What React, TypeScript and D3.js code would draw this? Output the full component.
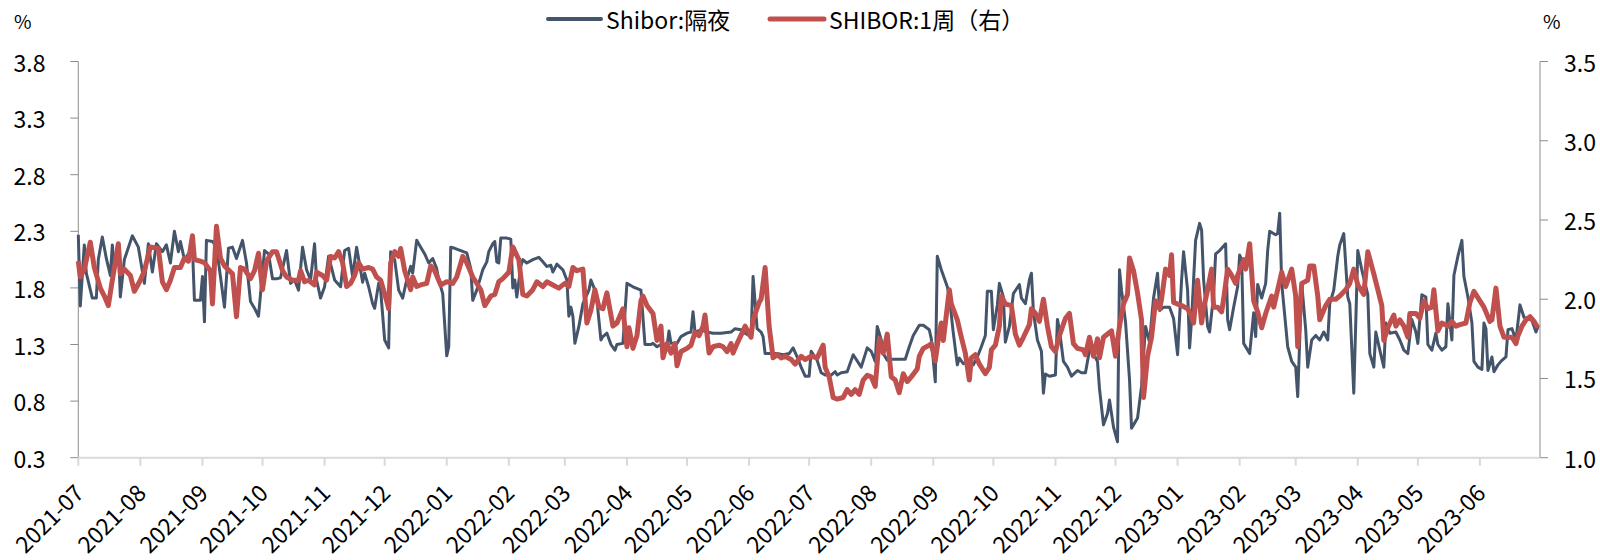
import React, { useEffect } from "react";
import * as d3 from "d3";

// Shibor overnight (left axis)
const overnight: [string, number][] = [
  ["2021-07-01", 2.27], ["2021-07-02", 1.64], ["2021-07-04", 2.18], ["2021-07-05", 1.93], ["2021-07-08", 1.71],
  ["2021-07-10", 1.71], ["2021-07-11", 2.05], ["2021-07-13", 2.25], ["2021-07-15", 2.06], ["2021-07-17", 1.91],
  ["2021-07-18", 2.18], ["2021-07-19", 1.96], ["2021-07-21", 2.18], ["2021-07-22", 1.72], ["2021-07-24", 2.05],
  ["2021-07-28", 2.26], ["2021-07-31", 2.16], ["2021-08-03", 1.84], ["2021-08-05", 2.19], ["2021-08-07", 1.94],
  ["2021-08-09", 2.19], ["2021-08-12", 2.12], ["2021-08-14", 2.18], ["2021-08-16", 2.02], ["2021-08-18", 2.3],
  ["2021-08-20", 2.12], ["2021-08-21", 2.21], ["2021-08-23", 2.05], ["2021-08-25", 2.1], ["2021-08-27", 2.16],
  ["2021-08-28", 1.69], ["2021-08-31", 1.69], ["2021-09-01", 1.9], ["2021-09-02", 1.5], ["2021-09-03", 2.22],
  ["2021-09-06", 2.21], ["2021-09-08", 2.16], ["2021-09-10", 1.9], ["2021-09-12", 1.63], ["2021-09-14", 2.15],
  ["2021-09-16", 2.16], ["2021-09-18", 2.06], ["2021-09-21", 2.22], ["2021-09-23", 2.02], ["2021-09-25", 1.68],
  ["2021-09-27", 1.62], ["2021-09-29", 1.55], ["2021-10-02", 2.13], ["2021-10-04", 2.1], ["2021-10-06", 1.88],
  ["2021-10-08", 1.88], ["2021-10-10", 1.89], ["2021-10-13", 2.13], ["2021-10-15", 1.84], ["2021-10-17", 1.87],
  ["2021-10-19", 1.78], ["2021-10-21", 2.16], ["2021-10-23", 1.96], ["2021-10-25", 1.87], ["2021-10-27", 2.19],
  ["2021-10-28", 1.87], ["2021-10-30", 1.71], ["2021-11-01", 1.81], ["2021-11-03", 2.08], ["2021-11-06", 1.87],
  ["2021-11-09", 1.81], ["2021-11-11", 2.13], ["2021-11-13", 2.15], ["2021-11-15", 1.9], ["2021-11-17", 2.16],
  ["2021-11-20", 1.85], ["2021-11-21", 1.93], ["2021-11-23", 1.81], ["2021-11-25", 1.66], ["2021-11-26", 1.62],
  ["2021-11-28", 1.84], ["2021-11-29", 1.78], ["2021-12-01", 1.34], ["2021-12-03", 1.27], ["2021-12-04", 2.12],
  ["2021-12-06", 2.05], ["2021-12-08", 1.78], ["2021-12-10", 1.71], ["2021-12-12", 1.87], ["2021-12-14", 1.99],
  ["2021-12-15", 1.93], ["2021-12-17", 2.22], ["2021-12-19", 2.16], ["2021-12-21", 2.1], ["2021-12-23", 2.02],
  ["2021-12-25", 2.06], ["2021-12-27", 1.97], ["2021-12-28", 1.87], ["2021-12-30", 1.75], ["2022-01-01", 1.2],
  ["2022-01-02", 1.28], ["2022-01-03", 2.16], ["2022-01-05", 2.15], ["2022-01-08", 2.13], ["2022-01-11", 2.11],
  ["2022-01-13", 1.97], ["2022-01-14", 1.69], ["2022-01-16", 1.78], ["2022-01-18", 1.9], ["2022-01-19", 1.96],
  ["2022-01-21", 2.03], ["2022-01-22", 2.12], ["2022-01-24", 2.19], ["2022-01-25", 2.21], ["2022-01-26", 2.03],
  ["2022-01-27", 2.02], ["2022-01-28", 2.24], ["2022-01-31", 2.24], ["2022-02-02", 2.23], ["2022-02-03", 1.8],
  ["2022-02-04", 1.87], ["2022-02-05", 1.72], ["2022-02-07", 1.99], ["2022-02-08", 2.05], ["2022-02-10", 2.02],
  ["2022-02-13", 2.05], ["2022-02-16", 2.07], ["2022-02-18", 2.03], ["2022-02-20", 1.99], ["2022-02-22", 2.0],
  ["2022-02-23", 1.94], ["2022-02-25", 2.01], ["2022-02-28", 1.96], ["2022-03-02", 1.87], ["2022-03-03", 1.55],
  ["2022-03-04", 1.63], ["2022-03-05", 1.55], ["2022-03-06", 1.31], ["2022-03-08", 1.46], ["2022-03-10", 1.66],
  ["2022-03-13", 1.78], ["2022-03-14", 1.87], ["2022-03-16", 1.78], ["2022-03-17", 1.69], ["2022-03-19", 1.34],
  ["2022-03-20", 1.37], ["2022-03-22", 1.4], ["2022-03-24", 1.3], ["2022-03-26", 1.25], ["2022-03-27", 1.3],
  ["2022-03-30", 1.31], ["2022-04-01", 1.84], ["2022-04-04", 1.81], ["2022-04-08", 1.78], ["2022-04-10", 1.3],
  ["2022-04-13", 1.3], ["2022-04-14", 1.31], ["2022-04-16", 1.28], ["2022-04-18", 1.3], ["2022-04-21", 1.28],
  ["2022-04-22", 1.42], ["2022-04-23", 1.31], ["2022-04-26", 1.31], ["2022-04-28", 1.37], ["2022-05-01", 1.4],
  ["2022-05-03", 1.41], ["2022-05-04", 1.59], ["2022-05-05", 1.41], ["2022-05-08", 1.43], ["2022-05-11", 1.41],
  ["2022-05-14", 1.4], ["2022-05-18", 1.4], ["2022-05-23", 1.41], ["2022-05-25", 1.44], ["2022-05-28", 1.43],
  ["2022-05-30", 1.4], ["2022-06-02", 1.37], ["2022-06-03", 1.9], ["2022-06-05", 1.44], ["2022-06-07", 1.41],
  ["2022-06-08", 1.37], ["2022-06-09", 1.22], ["2022-06-12", 1.22], ["2022-06-15", 1.22], ["2022-06-18", 1.21],
  ["2022-06-21", 1.22], ["2022-06-23", 1.27], ["2022-06-25", 1.19], ["2022-06-27", 1.1], ["2022-06-29", 1.02],
  ["2022-07-01", 1.02], ["2022-07-02", 1.24], ["2022-07-05", 1.16], ["2022-07-07", 1.05], ["2022-07-09", 1.03],
  ["2022-07-12", 1.03], ["2022-07-14", 1.06], ["2022-07-15", 1.03], ["2022-07-17", 1.05], ["2022-07-20", 1.06],
  ["2022-07-23", 1.21], ["2022-07-27", 1.1], ["2022-07-30", 1.27], ["2022-08-01", 1.24], ["2022-08-03", 1.15],
  ["2022-08-04", 1.46], ["2022-08-06", 1.34], ["2022-08-07", 1.22], ["2022-08-09", 1.16], ["2022-08-11", 1.17],
  ["2022-08-15", 1.17], ["2022-08-18", 1.17], ["2022-08-20", 1.28], ["2022-08-22", 1.38], ["2022-08-25", 1.47],
  ["2022-08-27", 1.47], ["2022-08-30", 1.43], ["2022-08-31", 1.35], ["2022-09-02", 0.97], ["2022-09-03", 2.08],
  ["2022-09-05", 1.96], ["2022-09-08", 1.81], ["2022-09-09", 1.72], ["2022-09-11", 1.4], ["2022-09-13", 1.12],
  ["2022-09-14", 1.18], ["2022-09-16", 1.13], ["2022-09-19", 1.16], ["2022-09-21", 1.12], ["2022-09-23", 1.19],
  ["2022-09-25", 1.28], ["2022-09-27", 1.38], ["2022-09-28", 1.77], ["2022-09-30", 1.77], ["2022-10-01", 1.43],
  ["2022-10-03", 1.65], ["2022-10-04", 1.84], ["2022-10-06", 1.72], ["2022-10-07", 1.32], ["2022-10-09", 1.46],
  ["2022-10-11", 1.75], ["2022-10-14", 1.83], ["2022-10-15", 1.71], ["2022-10-17", 1.66], ["2022-10-19", 1.87],
  ["2022-10-20", 1.93], ["2022-10-21", 1.59], ["2022-10-23", 1.34], ["2022-10-25", 1.24], ["2022-10-26", 0.87],
  ["2022-10-27", 1.04], ["2022-10-29", 1.02], ["2022-11-01", 1.03], ["2022-11-02", 1.52], ["2022-11-03", 1.43],
  ["2022-11-05", 1.15], ["2022-11-07", 1.1], ["2022-11-09", 1.02], ["2022-11-12", 1.07], ["2022-11-14", 1.05],
  ["2022-11-16", 1.05], ["2022-11-18", 1.25], ["2022-11-20", 1.22], ["2022-11-22", 1.15], ["2022-11-23", 0.91],
  ["2022-11-25", 0.59], ["2022-11-27", 0.69], ["2022-11-28", 0.81], ["2022-11-30", 0.57], ["2022-12-02", 0.44],
  ["2022-12-03", 1.96], ["2022-12-04", 1.78], ["2022-12-06", 1.5], ["2022-12-08", 0.99], ["2022-12-09", 0.56],
  ["2022-12-10", 0.59], ["2022-12-12", 0.65], ["2022-12-14", 0.93], ["2022-12-16", 1.46], ["2022-12-18", 1.32],
  ["2022-12-19", 1.52], ["2022-12-20", 1.71], ["2022-12-22", 1.93], ["2022-12-23", 1.6], ["2022-12-25", 1.63],
  ["2022-12-28", 1.63], ["2022-12-30", 1.53], ["2023-01-01", 1.21], ["2023-01-03", 1.87], ["2023-01-04", 2.12],
  ["2023-01-06", 1.78], ["2023-01-07", 1.27], ["2023-01-08", 1.52], ["2023-01-10", 2.22], ["2023-01-12", 2.37],
  ["2023-01-13", 2.31], ["2023-01-14", 1.87], ["2023-01-16", 1.46], ["2023-01-17", 1.41], ["2023-01-19", 1.74],
  ["2023-01-20", 2.1], ["2023-01-22", 2.13], ["2023-01-25", 2.19], ["2023-01-26", 1.52], ["2023-01-27", 1.43],
  ["2023-01-29", 1.63], ["2023-01-31", 1.81], ["2023-02-01", 2.09], ["2023-02-02", 2.05], ["2023-02-03", 1.31],
  ["2023-02-06", 1.22], ["2023-02-08", 1.58], ["2023-02-09", 1.37], ["2023-02-10", 1.83], ["2023-02-12", 1.71],
  ["2023-02-14", 1.84], ["2023-02-15", 2.13], ["2023-02-16", 2.3], ["2023-02-19", 2.27], ["2023-02-20", 2.28],
  ["2023-02-21", 2.46], ["2023-02-22", 1.84], ["2023-02-25", 1.28], ["2023-02-27", 1.15], ["2023-03-01", 1.1],
  ["2023-03-02", 0.84], ["2023-03-04", 1.84], ["2023-03-06", 1.43], ["2023-03-07", 1.1], ["2023-03-09", 1.34],
  ["2023-03-11", 1.38], ["2023-03-13", 1.34], ["2023-03-15", 1.41], ["2023-03-17", 1.34], ["2023-03-18", 1.66],
  ["2023-03-20", 1.78], ["2023-03-22", 2.08], ["2023-03-23", 2.18], ["2023-03-25", 2.28], ["2023-03-27", 1.72],
  ["2023-03-28", 1.66], ["2023-03-30", 0.87], ["2023-04-01", 2.13], ["2023-04-03", 1.96], ["2023-04-06", 1.74],
  ["2023-04-07", 1.22], ["2023-04-09", 1.1], ["2023-04-10", 1.41], ["2023-04-12", 1.25], ["2023-04-14", 1.1],
  ["2023-04-15", 1.49], ["2023-04-17", 1.4], ["2023-04-20", 1.41], ["2023-04-22", 1.34], ["2023-04-24", 1.25],
  ["2023-04-26", 1.22], ["2023-04-28", 1.52], ["2023-04-30", 1.41], ["2023-05-01", 1.31], ["2023-05-03", 1.74],
  ["2023-05-05", 1.72], ["2023-05-06", 1.3], ["2023-05-08", 1.25], ["2023-05-10", 1.4], ["2023-05-11", 1.3],
  ["2023-05-13", 1.25], ["2023-05-15", 1.28], ["2023-05-16", 1.66], ["2023-05-18", 1.34], ["2023-05-19", 1.91],
  ["2023-05-21", 2.08], ["2023-05-23", 2.22], ["2023-05-24", 1.9], ["2023-05-26", 1.72], ["2023-05-28", 1.49],
  ["2023-05-29", 1.15], ["2023-05-31", 1.1], ["2023-06-02", 1.08], ["2023-06-03", 1.49], ["2023-06-04", 1.44],
  ["2023-06-05", 1.07], ["2023-06-07", 1.19], ["2023-06-08", 1.06], ["2023-06-10", 1.12], ["2023-06-12", 1.16],
  ["2023-06-14", 1.19], ["2023-06-15", 1.43], ["2023-06-17", 1.44], ["2023-06-19", 1.34], ["2023-06-21", 1.65],
  ["2023-06-23", 1.54], ["2023-06-25", 1.53], ["2023-06-27", 1.51], ["2023-06-29", 1.41], ["2023-06-30", 1.46],
];

// SHIBOR 1 week (right axis)
const oneWeek: [string, number][] = [
  ["2021-07-01", 2.24], ["2021-07-02", 2.14], ["2021-07-04", 2.19], ["2021-07-07", 2.36], ["2021-07-09", 2.2],
  ["2021-07-12", 2.07], ["2021-07-14", 2.02], ["2021-07-16", 1.96], ["2021-07-18", 2.12], ["2021-07-21", 2.35],
  ["2021-07-22", 2.16], ["2021-07-24", 2.19], ["2021-07-27", 2.15], ["2021-07-29", 2.05], ["2021-08-01", 2.12],
  ["2021-08-03", 2.18], ["2021-08-06", 2.33], ["2021-08-10", 2.32], ["2021-08-12", 2.11], ["2021-08-14", 2.06],
  ["2021-08-16", 2.12], ["2021-08-18", 2.2], ["2021-08-21", 2.2], ["2021-08-23", 2.26], ["2021-08-25", 2.24],
  ["2021-08-27", 2.4], ["2021-08-28", 2.25], ["2021-08-31", 2.24], ["2021-09-02", 2.23], ["2021-09-05", 2.18],
  ["2021-09-06", 1.97], ["2021-09-08", 2.46], ["2021-09-10", 2.26], ["2021-09-12", 2.21], ["2021-09-16", 2.16],
  ["2021-09-18", 1.89], ["2021-09-20", 2.2], ["2021-09-22", 2.19], ["2021-09-25", 2.13], ["2021-09-27", 2.18],
  ["2021-09-29", 2.29], ["2021-10-01", 2.06], ["2021-10-03", 2.24], ["2021-10-06", 2.3], ["2021-10-08", 2.3],
  ["2021-10-11", 2.18], ["2021-10-13", 2.14], ["2021-10-16", 2.12], ["2021-10-19", 2.12], ["2021-10-20", 2.18],
  ["2021-10-22", 2.11], ["2021-10-24", 2.12], ["2021-10-27", 2.09], ["2021-10-28", 2.17], ["2021-10-31", 2.15],
  ["2021-11-02", 2.12], ["2021-11-04", 2.27], ["2021-11-06", 2.26], ["2021-11-08", 2.3], ["2021-11-10", 2.23],
  ["2021-11-12", 2.08], ["2021-11-14", 2.1], ["2021-11-16", 2.15], ["2021-11-18", 2.23], ["2021-11-20", 2.19],
  ["2021-11-23", 2.2], ["2021-11-25", 2.19], ["2021-11-27", 2.14], ["2021-11-29", 2.12], ["2021-12-02", 1.99],
  ["2021-12-03", 1.94], ["2021-12-04", 2.23], ["2021-12-06", 2.3], ["2021-12-08", 2.27], ["2021-12-09", 2.32],
  ["2021-12-11", 2.18], ["2021-12-14", 2.06], ["2021-12-15", 2.14], ["2021-12-17", 2.08], ["2021-12-19", 2.09],
  ["2021-12-22", 2.1], ["2021-12-24", 2.21], ["2021-12-26", 2.18], ["2021-12-29", 2.09], ["2022-01-01", 2.11],
  ["2022-01-04", 2.1], ["2022-01-06", 2.14], ["2022-01-09", 2.27], ["2022-01-11", 2.23], ["2022-01-14", 2.14],
  ["2022-01-18", 2.06], ["2022-01-20", 1.96], ["2022-01-23", 2.02], ["2022-01-25", 2.03], ["2022-01-27", 2.11],
  ["2022-01-29", 2.13], ["2022-02-01", 2.17], ["2022-02-03", 2.33], ["2022-02-06", 2.25], ["2022-02-08", 2.03],
  ["2022-02-10", 2.02], ["2022-02-13", 2.06], ["2022-02-15", 2.11], ["2022-02-18", 2.08], ["2022-02-20", 2.11],
  ["2022-02-23", 2.09], ["2022-02-26", 2.07], ["2022-03-01", 2.1], ["2022-03-03", 2.08], ["2022-03-05", 2.2],
  ["2022-03-07", 2.18], ["2022-03-10", 2.19], ["2022-03-12", 1.85], ["2022-03-14", 1.93], ["2022-03-16", 2.06],
  ["2022-03-18", 1.95], ["2022-03-20", 1.94], ["2022-03-22", 2.04], ["2022-03-25", 1.83], ["2022-03-27", 1.85],
  ["2022-03-30", 1.94], ["2022-04-01", 1.7], ["2022-04-02", 1.82], ["2022-04-04", 1.69], ["2022-04-06", 1.77],
  ["2022-04-08", 1.99], ["2022-04-09", 2.02], ["2022-04-11", 1.96], ["2022-04-14", 1.91], ["2022-04-16", 1.74],
  ["2022-04-18", 1.83], ["2022-04-19", 1.63], ["2022-04-21", 1.72], ["2022-04-23", 1.66], ["2022-04-25", 1.72],
  ["2022-04-26", 1.58], ["2022-04-28", 1.67], ["2022-05-01", 1.69], ["2022-05-03", 1.71], ["2022-05-05", 1.79],
  ["2022-05-07", 1.77], ["2022-05-09", 1.83], ["2022-05-10", 1.9], ["2022-05-12", 1.66], ["2022-05-14", 1.7],
  ["2022-05-17", 1.71], ["2022-05-19", 1.7], ["2022-05-21", 1.67], ["2022-05-23", 1.72], ["2022-05-24", 1.66],
  ["2022-05-26", 1.72], ["2022-05-29", 1.8], ["2022-05-30", 1.83], ["2022-06-02", 1.76], ["2022-06-03", 1.87],
  ["2022-06-06", 1.98], ["2022-06-07", 2.0], ["2022-06-09", 2.2], ["2022-06-11", 1.83], ["2022-06-13", 1.63],
  ["2022-06-15", 1.65], ["2022-06-17", 1.63], ["2022-06-19", 1.64], ["2022-06-22", 1.62], ["2022-06-24", 1.59],
  ["2022-06-27", 1.64], ["2022-06-29", 1.62], ["2022-07-02", 1.64], ["2022-07-05", 1.63], ["2022-07-08", 1.71],
  ["2022-07-09", 1.57], ["2022-07-11", 1.51], ["2022-07-13", 1.38], ["2022-07-15", 1.37], ["2022-07-18", 1.38],
  ["2022-07-20", 1.43], ["2022-07-22", 1.4], ["2022-07-24", 1.43], ["2022-07-26", 1.4], ["2022-07-28", 1.49],
  ["2022-07-30", 1.52], ["2022-08-01", 1.51], ["2022-08-03", 1.45], ["2022-08-05", 1.75], ["2022-08-07", 1.66],
  ["2022-08-09", 1.78], ["2022-08-11", 1.51], ["2022-08-13", 1.49], ["2022-08-15", 1.41], ["2022-08-17", 1.53],
  ["2022-08-19", 1.48], ["2022-08-21", 1.51], ["2022-08-24", 1.56], ["2022-08-25", 1.64], ["2022-08-27", 1.69],
  ["2022-08-30", 1.71], ["2022-08-31", 1.72], ["2022-09-02", 1.61], ["2022-09-04", 1.79], ["2022-09-05", 1.85],
  ["2022-09-06", 1.74], ["2022-09-09", 2.06], ["2022-09-10", 1.97], ["2022-09-13", 1.87], ["2022-09-15", 1.76],
  ["2022-09-17", 1.66], ["2022-09-19", 1.49], ["2022-09-20", 1.63], ["2022-09-22", 1.65], ["2022-09-24", 1.59],
  ["2022-09-27", 1.53], ["2022-09-29", 1.57], ["2022-09-30", 1.68], ["2022-10-02", 1.71], ["2022-10-04", 1.83],
  ["2022-10-05", 2.02], ["2022-10-07", 1.97], ["2022-10-10", 1.96], ["2022-10-12", 1.78], ["2022-10-14", 1.71],
  ["2022-10-16", 1.76], ["2022-10-19", 1.84], ["2022-10-20", 1.94], ["2022-10-22", 1.91], ["2022-10-24", 1.86],
  ["2022-10-26", 2.0], ["2022-10-28", 1.83], ["2022-10-30", 1.7], ["2022-11-01", 1.67], ["2022-11-03", 1.77],
  ["2022-11-06", 1.88], ["2022-11-08", 1.91], ["2022-11-10", 1.72], ["2022-11-12", 1.69], ["2022-11-15", 1.68],
  ["2022-11-16", 1.65], ["2022-11-18", 1.76], ["2022-11-20", 1.64], ["2022-11-22", 1.75], ["2022-11-23", 1.63],
  ["2022-11-25", 1.76], ["2022-11-28", 1.79], ["2022-11-29", 1.8], ["2022-12-01", 1.64], ["2022-12-03", 1.83],
  ["2022-12-05", 1.97], ["2022-12-07", 2.03], ["2022-12-08", 2.26], ["2022-12-10", 2.18], ["2022-12-12", 2.04],
  ["2022-12-14", 1.87], ["2022-12-15", 1.38], ["2022-12-17", 1.64], ["2022-12-19", 1.76], ["2022-12-21", 1.99],
  ["2022-12-23", 1.94], ["2022-12-24", 2.0], ["2022-12-26", 2.19], ["2022-12-28", 2.15], ["2022-12-29", 2.28],
  ["2022-12-30", 1.98], ["2023-01-03", 1.96], ["2023-01-06", 1.94], ["2023-01-08", 1.89], ["2023-01-09", 1.85],
  ["2023-01-11", 2.12], ["2023-01-13", 1.85], ["2023-01-14", 1.94], ["2023-01-16", 2.06], ["2023-01-18", 2.19],
  ["2023-01-19", 1.95], ["2023-01-21", 1.95], ["2023-01-23", 1.92], ["2023-01-24", 2.0], ["2023-01-26", 2.19],
  ["2023-01-28", 2.15], ["2023-01-30", 2.1], ["2023-01-31", 2.15], ["2023-02-03", 2.25], ["2023-02-04", 2.19],
  ["2023-02-06", 2.35], ["2023-02-08", 1.99], ["2023-02-10", 1.92], ["2023-02-12", 1.82], ["2023-02-14", 1.91],
  ["2023-02-17", 2.02], ["2023-02-18", 1.95], ["2023-02-20", 2.06], ["2023-02-22", 2.17], ["2023-02-24", 2.08],
  ["2023-02-27", 2.19], ["2023-03-01", 2.02], ["2023-03-02", 1.7], ["2023-03-04", 2.1], ["2023-03-07", 2.12],
  ["2023-03-08", 2.21], ["2023-03-10", 2.21], ["2023-03-12", 2.02], ["2023-03-13", 1.87], ["2023-03-16", 1.96],
  ["2023-03-18", 2.0], ["2023-03-21", 2.0], ["2023-03-23", 2.02], ["2023-03-26", 2.06], ["2023-03-28", 2.1],
  ["2023-03-30", 2.19], ["2023-04-01", 2.09], ["2023-04-04", 2.03], ["2023-04-06", 2.3], ["2023-04-09", 2.16],
  ["2023-04-11", 2.06], ["2023-04-13", 1.96], ["2023-04-14", 1.74], ["2023-04-16", 1.82], ["2023-04-19", 1.9],
  ["2023-04-20", 1.83], ["2023-04-22", 1.87], ["2023-04-24", 1.83], ["2023-04-26", 1.76], ["2023-04-27", 1.91],
  ["2023-04-30", 1.91], ["2023-05-02", 1.88], ["2023-05-04", 1.99], ["2023-05-06", 1.94], ["2023-05-08", 1.95],
  ["2023-05-09", 2.06], ["2023-05-11", 1.8], ["2023-05-13", 1.85], ["2023-05-16", 1.83], ["2023-05-18", 1.86],
  ["2023-05-20", 1.83], ["2023-05-22", 1.84], ["2023-05-25", 1.85], ["2023-05-27", 1.98], ["2023-05-29", 2.05],
  ["2023-06-01", 1.99], ["2023-06-03", 1.95], ["2023-06-06", 1.86], ["2023-06-07", 1.87], ["2023-06-09", 2.07],
  ["2023-06-11", 1.83], ["2023-06-13", 1.76], ["2023-06-15", 1.76], ["2023-06-17", 1.76], ["2023-06-19", 1.72],
  ["2023-06-20", 1.77], ["2023-06-22", 1.83], ["2023-06-24", 1.87], ["2023-06-26", 1.89], ["2023-06-28", 1.86],
  ["2023-06-30", 1.82],
];

const leftTicks = [0.3, 0.8, 1.3, 1.8, 2.3, 2.8, 3.3, 3.8];
const rightTicks = [1.0, 1.5, 2.0, 2.5, 3.0, 3.5];
const monthTicks = [
  "2021-07", "2021-08", "2021-09", "2021-10", "2021-11", "2021-12",
  "2022-01", "2022-02", "2022-03", "2022-04", "2022-05", "2022-06",
  "2022-07", "2022-08", "2022-09", "2022-10", "2022-11", "2022-12",
  "2023-01", "2023-02", "2023-03", "2023-04", "2023-05", "2023-06",
];
const seriesNames = ["Shibor:隔夜", "SHIBOR:1周（右）"];

const W = 1600;
const H = 560;
const plot = { left: 78.3, right: 1540, top: 61.5, bottom: 457.7 };
const FONT = "'Noto Sans CJK SC', 'Noto Sans', sans-serif";
const BLUE = "#44546A";
const RED = "#C0504D";
const AXIS = "#8c8c8c";
const GRID = "#d9d9d9";

const parseDay = d3.timeParse("%Y-%m-%d");
const parseMonth = d3.timeParse("%Y-%m");

export default function App() {
  useEffect(() => {
    document.body.style.margin = "0";
  }, []);

  const x = d3
    .scaleTime()
    .domain([parseDay("2021-07-01") as Date, parseDay("2023-07-01") as Date])
    .range([plot.left, plot.right]);
  const yLeft = d3.scaleLinear().domain([0.3, 3.8]).range([plot.bottom, plot.top]);
  const yRight = d3.scaleLinear().domain([1.0, 3.5]).range([plot.bottom, plot.top]);

  const lineLeft = d3
    .line<[string, number]>()
    .x((d) => x(parseDay(d[0]) as Date))
    .y((d) => yLeft(d[1]));
  const lineRight = d3
    .line<[string, number]>()
    .x((d) => x(parseDay(d[0]) as Date))
    .y((d) => yRight(d[1]));

  return (
    <svg
      width={W}
      height={H}
      style={{ position: "absolute", left: 0, top: 0, background: "#fff" }}
      fontFamily={FONT}
    >
      {/* unit labels */}
      <text x={14} y={20} fontSize={19} dominantBaseline="central" fill="#000">%</text>
      <text x={1543} y={20} fontSize={19} dominantBaseline="central" fill="#000">%</text>

      {/* legend */}
      <g>
        <line x1={548} x2={601} y1={19} y2={19} stroke={BLUE} strokeWidth={4} strokeLinecap="round" />
        <text x={606} y={19} fontSize={23} dominantBaseline="central">{seriesNames[0]}</text>
        <line x1={770} x2={824} y1={19} y2={19} stroke={RED} strokeWidth={5} strokeLinecap="round" />
        <text x={829} y={19} fontSize={23} dominantBaseline="central">{seriesNames[1]}</text>
      </g>

      {/* left axis */}
      <line x1={plot.left} x2={plot.left} y1={plot.top} y2={plot.bottom} stroke={AXIS} strokeWidth={1} />
      {leftTicks.map((t) => (
        <g key={"l" + t}>
          <line x1={plot.left - 8} x2={plot.left} y1={yLeft(t)} y2={yLeft(t)} stroke={AXIS} strokeWidth={1} />
          <text x={45.5} y={yLeft(t)} fontSize={23} textAnchor="end" dominantBaseline="central">
            {t.toFixed(1)}
          </text>
        </g>
      ))}

      {/* right axis */}
      <line x1={plot.right} x2={plot.right} y1={plot.top} y2={plot.bottom} stroke={AXIS} strokeWidth={1} />
      {rightTicks.map((t) => (
        <g key={"r" + t}>
          <line x1={plot.right} x2={plot.right + 8} y1={yRight(t)} y2={yRight(t)} stroke={AXIS} strokeWidth={1} />
          <text x={1564} y={yRight(t)} fontSize={23} textAnchor="start" dominantBaseline="central">
            {t.toFixed(1)}
          </text>
        </g>
      ))}

      {/* bottom axis */}
      <line x1={plot.left} x2={plot.right} y1={plot.bottom} y2={plot.bottom} stroke={GRID} strokeWidth={2} />
      {monthTicks.map((m) => {
        const px = x(parseMonth(m) as Date);
        return (
          <g key={m}>
            <line x1={px} x2={px} y1={plot.bottom} y2={plot.bottom + 8} stroke={GRID} strokeWidth={2} />
            <text
              transform={`translate(${px},${plot.bottom + 30}) rotate(-45)`}
              fontSize={23}
              textAnchor="end"
              dominantBaseline="central"
            >
              {m}
            </text>
          </g>
        );
      })}

      {/* series */}
      <path d={lineLeft(overnight) ?? ""} fill="none" stroke={BLUE} strokeWidth={3} strokeLinejoin="round" />
      <path d={lineRight(oneWeek) ?? ""} fill="none" stroke={RED} strokeWidth={5} strokeLinejoin="round" />
    </svg>
  );
}
